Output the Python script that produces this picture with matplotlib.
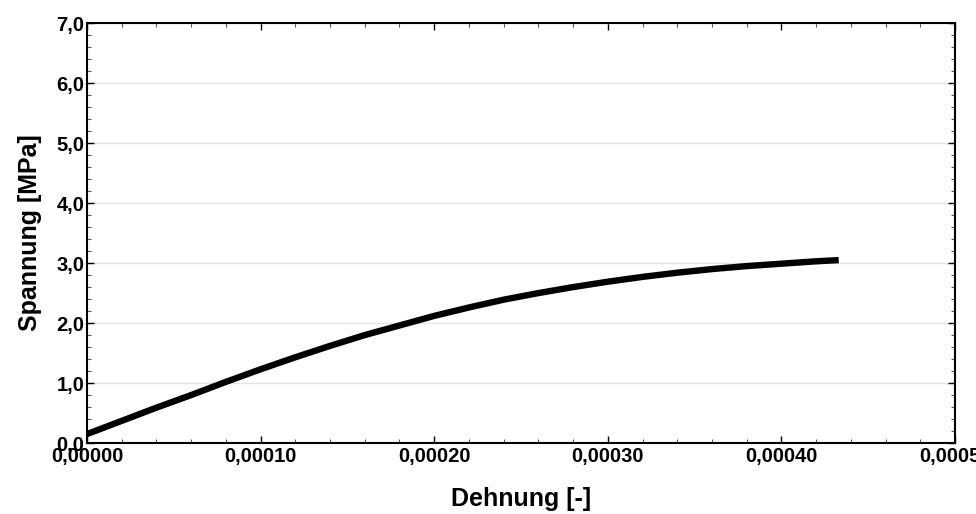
import matplotlib.pyplot as plt
from matplotlib.ticker import FuncFormatter, MultipleLocator, AutoMinorLocator

plt.rcParams['font.family'] = ['Liberation Sans', 'DejaVu Sans']
plt.rcParams['font.weight'] = 'bold'

# Spannungs-Dehnungs-Kurve
dehnung = [0.0, 0.00002, 0.00004, 0.00006, 0.00008, 0.00010, 0.00012, 0.00014,
           0.00016, 0.00018, 0.00020, 0.00022, 0.00024, 0.00026, 0.00028,
           0.00030, 0.00032, 0.00034, 0.00036, 0.00038, 0.00040, 0.00042, 0.000433]
spannung = [0.15, 0.37, 0.59, 0.80, 1.02, 1.23, 1.43, 1.62,
            1.80, 1.96, 2.12, 2.26, 2.39, 2.50, 2.60,
            2.69, 2.77, 2.84, 2.90, 2.95, 2.99, 3.03, 3.05]

fig = plt.figure(figsize=(9.76, 5.14), dpi=100)
ax = fig.add_axes([0.0891, 0.138, 0.8894, 0.817])

ax.plot(dehnung, spannung, color='black', linewidth=4.6, solid_capstyle='butt',
        solid_joinstyle='round', zorder=3)

ax.set_xlim(0, 0.0005)
ax.set_ylim(0, 7)
ax.xaxis.set_major_locator(MultipleLocator(0.0001))
ax.yaxis.set_major_locator(MultipleLocator(1.0))
ax.xaxis.set_minor_locator(AutoMinorLocator(5))
ax.yaxis.set_minor_locator(AutoMinorLocator(5))
ax.xaxis.set_major_formatter(FuncFormatter(lambda v, p: f'{v:.5f}'.replace('.', ',')))
ax.yaxis.set_major_formatter(FuncFormatter(lambda v, p: f'{v:.1f}'.replace('.', ',')))

ax.tick_params(which='both', direction='in', top=True, right=True, labelsize=14.5, pad=2)
ax.tick_params(which='major', length=5, width=1)
ax.tick_params(which='minor', length=3, width=0.8, colors='#555555')
ax.tick_params(axis='x', which='major', pad=3)
for lbl in ax.get_xticklabels() + ax.get_yticklabels():
    lbl.set_fontweight('bold')

ax.grid(axis='y', color='#e3e3e3', linewidth=1)
ax.set_axisbelow(True)
for s in ax.spines.values():
    s.set_linewidth(1.5)

ax.set_xlabel('Dehnung [-]', fontsize=18, fontweight='bold', labelpad=15)
ax.set_ylabel('Spannung [MPa]', fontsize=18, fontweight='bold', labelpad=10)

fig.savefig('out.png', dpi=100)
